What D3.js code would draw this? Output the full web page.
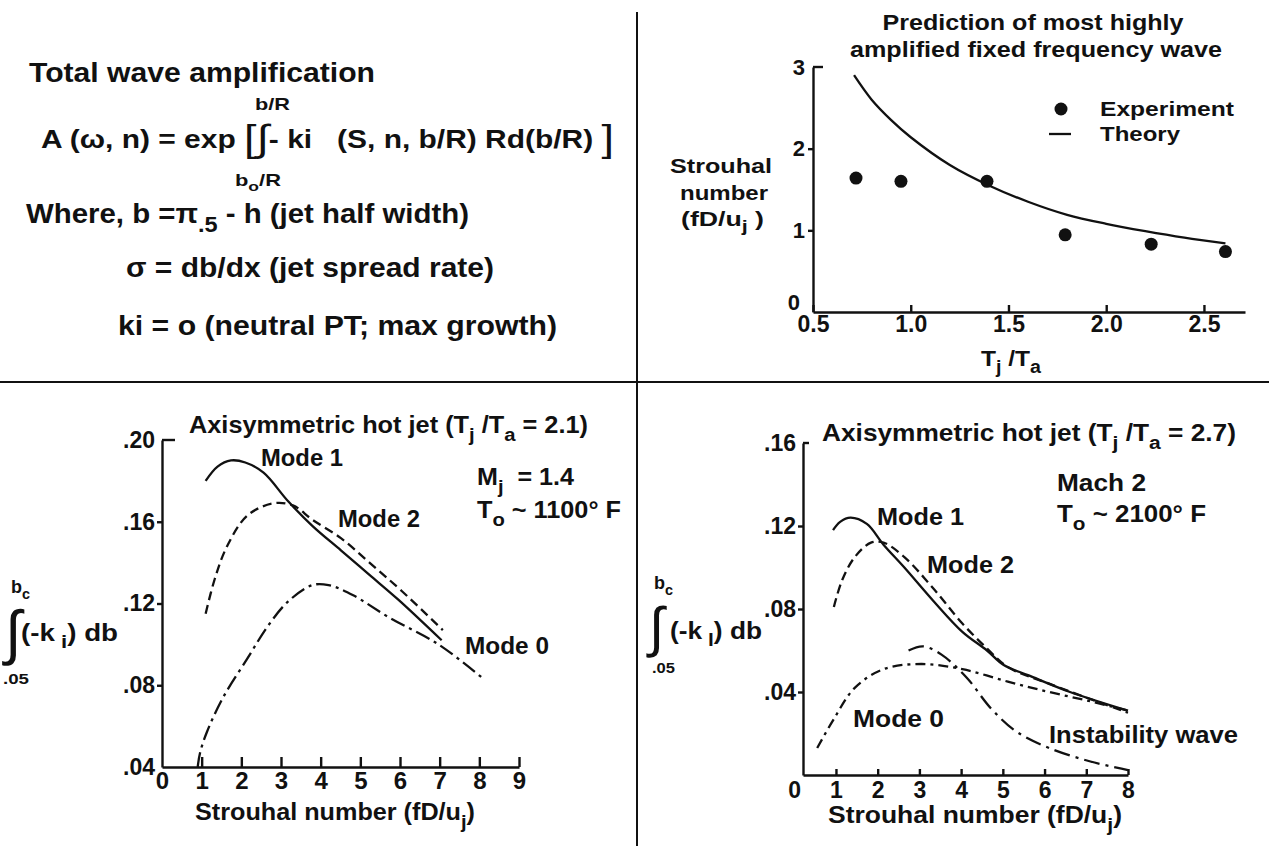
<!DOCTYPE html>
<html>
<head>
<meta charset="utf-8">
<script src="https://cdn.jsdelivr.net/npm/d3@7"></script>
<style>
  body { margin: 0; background: #fff; }
  svg text { font-family: "Liberation Sans Narrow", "Liberation Sans", Arial, sans-serif; font-weight: bold; fill: #111; white-space: pre; }
  svg text .big, svg text.big { font-weight: normal; }
  .axis path, .axis line { stroke: #111; stroke-width: 2.4; }
  .curve { fill: none; stroke: #111; stroke-width: 2.3; }
</style>
</head>
<body>
<svg id="chart" width="1269" height="846"></svg>
<script>
// top right: most highly amplified frequency vs temperature ratio
var ratioTicks = [0.5, 1.0, 1.5, 2.0, 2.5];
var strouhalTicks = [0, 1, 2, 3];
var experiment = [[0.72, 1.64], [0.95, 1.60], [1.39, 1.60], [1.79, 0.945], [2.23, 0.83], [2.61, 0.74]];
var theory = [[0.71, 2.90], [0.80, 2.60], [0.90, 2.35], [1.00, 2.14], [1.20, 1.80], [1.40, 1.55],
              [1.60, 1.35], [1.80, 1.19], [2.00, 1.08], [2.20, 0.99], [2.40, 0.91], [2.61, 0.84]];

// bottom left: Tj/Ta = 2.1
var hot21XTicks = [0, 1, 2, 3, 4, 5, 6, 7, 8, 9];
var hot21YTicks = [0.04, 0.08, 0.12, 0.16, 0.20];
var hot21Mode1 = [[1.10, 0.180], [1.40, 0.187], [1.74, 0.190], [2.10, 0.189], [2.56, 0.184], [3.18, 0.170],
                  [3.79, 0.158], [4.51, 0.146], [5.23, 0.134], [5.95, 0.122], [7.05, 0.102]];
var hot21Mode2 = [[1.10, 0.115], [1.33, 0.132], [1.64, 0.148], [2.15, 0.163], [2.80, 0.169], [3.30, 0.168],
                  [3.79, 0.161], [4.51, 0.152], [5.23, 0.140], [6.05, 0.126], [7.08, 0.107]];
var hot21Mode0 = [[0.90, 0.040], [0.96, 0.047], [1.13, 0.057], [1.54, 0.074], [2.15, 0.093], [2.67, 0.109],
                  [3.18, 0.121], [3.79, 0.129], [4.20, 0.129], [4.82, 0.124], [5.74, 0.113], [6.97, 0.100], [8.05, 0.084]];

// bottom right: Tj/Ta = 2.7
var hot27XTicks = [0, 1, 2, 3, 4, 5, 6, 7, 8];
var hot27YTicks = [0.04, 0.08, 0.12, 0.16];
var hot27Mode1 = [[0.93, 0.118], [1.10, 0.122], [1.35, 0.124], [1.74, 0.121], [2.14, 0.111], [2.64, 0.100],
                  [3.33, 0.084], [4.03, 0.069], [4.62, 0.060], [5.02, 0.053], [5.62, 0.048], [6.61, 0.040], [8.00, 0.031]];
var hot27Mode2 = [[0.95, 0.081], [1.15, 0.094], [1.45, 0.105], [1.84, 0.112], [2.14, 0.112], [2.64, 0.105],
                  [3.33, 0.090], [4.03, 0.073], [4.62, 0.061], [5.12, 0.052], [6.11, 0.044], [8.00, 0.030]];
var hot27Mode0 = [[0.55, 0.013], [0.95, 0.027], [1.45, 0.042], [2.14, 0.051], [3.04, 0.0535], [4.03, 0.051],
                  [5.12, 0.045], [6.11, 0.040], [7.10, 0.0355], [8.00, 0.031]];
var hot27Instab = [[2.74, 0.060], [3.09, 0.062], [3.53, 0.058], [4.13, 0.047], [4.72, 0.032], [5.32, 0.021],
                   [6.11, 0.013], [7.10, 0.0065], [8.00, 0.0024]];

var svg = d3.select("#chart");
svg.append("rect").attr("width", 1269).attr("height", 846).attr("fill", "#fff");

// text with _{sub}, ^{sup} and #{big} parts
function rich(x, y, str, size, opts) {
  opts = opts || {};
  var t = svg.append("text")
      .attr("x", x).attr("y", y)
      .attr("font-size", size)
      .attr("text-anchor", opts.anchor || "start");
  var re = /([_^#])\{([^}]*)\}/g, last = 0, m, shift = 0;
  function add(s, off, fs, cls) {
    if (!s) return;
    var sp = t.append("tspan").text(s);
    if (off !== shift) sp.attr("dy", off - shift);
    shift = off;
    if (fs) sp.attr("font-size", fs);
    if (cls) sp.attr("class", cls);
  }
  while ((m = re.exec(str)) !== null) {
    add(str.slice(last, m.index), 0);
    if (m[1] === "_") add(m[2], size * 0.32, size * 0.8);
    else if (m[1] === "^") add(m[2], -size * 0.4, size * 0.8);
    else add(m[2], size * 0.1, size * 1.5, "big");
    last = re.lastIndex;
  }
  add(str.slice(last), 0);
  if (opts.w) t.attr("textLength", opts.w).attr("lengthAdjust", "spacingAndGlyphs");
  if (opts.cls) t.attr("class", opts.cls);
  return t;
}

function yFmt(d) { return d3.format(".2f")(d).replace(/^0/, ""); }

var line = function(x, y) {
  return d3.line()
    .x(function(d) { return x(d[0]); })
    .y(function(d) { return y(d[1]); })
    .curve(d3.curveCatmullRom.alpha(0.5));
};

// panel dividers
svg.append("line").attr("x1", 637).attr("x2", 637).attr("y1", 12).attr("y2", 846)
   .attr("stroke", "#111").attr("stroke-width", 2);
svg.append("line").attr("x1", 0).attr("x2", 1269).attr("y1", 382).attr("y2", 382)
   .attr("stroke", "#111").attr("stroke-width", 2);

// ---------- top left: equations
rich(29, 82, "Total wave amplification", 28, {w: 346});
rich(255, 110, "b/R", 17, {w: 35});
rich(41, 148, "A (ω, n) = exp #{[}#{∫}- ki   (S, n, b/R) Rd(b/R) #{]}", 25, {w: 573});
rich(235, 186, "b_{o}/R", 17, {w: 46});
rich(26, 223, "Where, b =π_{.5} - h (jet half width)", 27, {w: 443});
rich(126, 277, "σ = db/dx (jet spread rate)", 27, {w: 368});
rich(118, 335, "ki = o (neutral PT; max growth)", 27, {w: 439});

// ---------- top right
var trX = d3.scaleLinear().domain([0.5, 2.71]).range([813, 1245]);
var trY = d3.scaleLinear().domain([0, 3]).range([312, 67]);

svg.append("g").attr("class", "axis")
   .attr("transform", "translate(0," + trY(0) + ")")
   .call(d3.axisBottom(trX).tickValues(ratioTicks).tickFormat(d3.format(".1f"))
         .tickSize(-7).tickSizeOuter(0).tickPadding(4))
   .attr("font-size", 23);

var trYAxis = svg.append("g").attr("class", "axis")
   .attr("transform", "translate(" + trX(0.5) + ",0)")
   .call(d3.axisLeft(trY).tickValues(strouhalTicks).tickFormat(d3.format("d"))
         .tickSize(5).tickSizeOuter(0).tickPadding(3))
   .attr("font-size", 22);
trYAxis.selectAll(".tick").filter(function(d) { return d === 0 || d === 3; }).select("line").remove();
// the 0 label sits just above the corner
trYAxis.selectAll(".tick").filter(function(d) { return d === 0; }).select("text").attr("y", -10).attr("x", -13);
svg.append("line").attr("x1", trX(0.5)).attr("x2", trX(0.5) + 10)
   .attr("y1", trY(3)).attr("y2", trY(3)).attr("stroke", "#111").attr("stroke-width", 2.4);

svg.append("path").attr("class", "curve").attr("d", line(trX, trY)(theory));
svg.selectAll(".expt").data(experiment).enter().append("circle")
   .attr("class", "expt")
   .attr("cx", function(d) { return trX(d[0]); })
   .attr("cy", function(d) { return trY(d[1]); })
   .attr("r", 6.5).attr("fill", "#111");

rich(1033, 30, "Prediction of most highly", 22, {anchor: "middle", w: 301});
rich(1036, 57, "amplified fixed frequency wave", 22, {anchor: "middle", w: 372});
svg.append("circle").attr("cx", 1061).attr("cy", 109).attr("r", 6.5).attr("fill", "#111");
rich(1100, 116, "Experiment", 21, {w: 134});
svg.append("line").attr("x1", 1049).attr("x2", 1071).attr("y1", 134).attr("y2", 134)
   .attr("stroke", "#111").attr("stroke-width", 2.3);
rich(1100, 141, "Theory", 21, {w: 80});
rich(721, 173, "Strouhal", 20, {anchor: "middle", w: 102});
rich(724, 200, "number", 20, {anchor: "middle", w: 88});
rich(681, 226, "(fD/u_{j} )", 20, {w: 83});
rich(981, 366, "T_{j} /T_{a}", 22, {w: 60});

// ---------- bottom left: Tj/Ta = 2.1
var blX = d3.scaleLinear().domain([0, 9]).range([162, 519]);
var blY = d3.scaleLinear().domain([0.04, 0.20]).range([767, 440]);

var blXAxis = svg.append("g").attr("class", "axis")
   .attr("transform", "translate(0," + blY(0.04) + ")")
   .call(d3.axisBottom(blX).tickValues(hot21XTicks).tickSize(-10).tickSizeOuter(0).tickPadding(5))
   .attr("font-size", 24);
blXAxis.selectAll(".tick").filter(function(d) { return d === 0; }).select("line").remove();

var blYAxis = svg.append("g").attr("class", "axis")
   .attr("transform", "translate(" + blX(0) + ",0)")
   .call(d3.axisLeft(blY).tickValues(hot21YTicks).tickFormat(yFmt).tickSize(5).tickSizeOuter(0).tickPadding(2))
   .attr("font-size", 23);
blYAxis.selectAll(".tick").filter(function(d) { return d === 0.04 || d === 0.20; }).select("line").remove();
svg.append("line").attr("x1", blX(0)).attr("x2", blX(0) + 13)
   .attr("y1", blY(0.20)).attr("y2", blY(0.20)).attr("stroke", "#111").attr("stroke-width", 2.4);

svg.append("path").attr("class", "curve").attr("d", line(blX, blY)(hot21Mode1));
svg.append("path").attr("class", "curve").attr("stroke-dasharray", "9,5").attr("d", line(blX, blY)(hot21Mode2));
svg.append("path").attr("class", "curve").attr("stroke-dasharray", "15,5,3,5").attr("d", line(blX, blY)(hot21Mode0));

rich(189, 433, "Axisymmetric hot jet (T_{j} /T_{a} = 2.1)", 24, {w: 399});
rich(261, 466, "Mode 1", 24, {w: 82});
rich(338, 527, "Mode 2", 24, {w: 82});
rich(465, 654, "Mode 0", 24, {w: 84});
rich(477, 485, "M_{j}  = 1.4", 24, {w: 97});
rich(477, 518, "T_{o} ~ 1100° F", 24, {w: 144});
rich(195, 820, "Strouhal number (fD/u_{j})", 24, {w: 280});
rich(11, 593, "b_{c}", 18);
rich(5, 653, "∫", 60, {cls: "big"});
rich(21, 641, "(-k_{ i}) db", 23, {w: 97});
rich(3, 684, ".05", 15, {w: 26});

// ---------- bottom right: Tj/Ta = 2.7
var brX = d3.scaleLinear().domain([0.21, 8]).range([803, 1128]);
var brY = d3.scaleLinear().domain([0, 0.16]).range([775, 443]);

var brXAxis = svg.append("g").attr("class", "axis")
   .attr("transform", "translate(0," + brY(0) + ")")
   .call(d3.axisBottom(brX).tickValues(hot27XTicks).tickSize(-6).tickSizeOuter(0).tickPadding(7))
   .attr("font-size", 23);
brXAxis.selectAll(".tick").filter(function(d) { return d === 0; }).select("line").remove();

var brYAxis = svg.append("g").attr("class", "axis")
   .attr("transform", "translate(" + brX(0.21) + ",0)")
   .call(d3.axisLeft(brY).tickValues(hot27YTicks).tickFormat(yFmt).tickSize(5).tickSizeOuter(0).tickPadding(2))
   .attr("font-size", 23);
brYAxis.selectAll(".tick").filter(function(d) { return d === 0.16; }).select("line").remove();
svg.append("line").attr("x1", brX(0.21)).attr("x2", brX(0.21) + 6)
   .attr("y1", brY(0.16)).attr("y2", brY(0.16)).attr("stroke", "#111").attr("stroke-width", 2.4);

svg.append("path").attr("class", "curve").attr("d", line(brX, brY)(hot27Mode1));
svg.append("path").attr("class", "curve").attr("stroke-dasharray", "9,5").attr("d", line(brX, brY)(hot27Mode2));
svg.append("path").attr("class", "curve").attr("stroke-dasharray", "10,5,3,5").attr("d", line(brX, brY)(hot27Mode0));
svg.append("path").attr("class", "curve").attr("stroke-dasharray", "16,6,3,6").attr("d", line(brX, brY)(hot27Instab));

rich(822, 441, "Axisymmetric hot jet (T_{j} /T_{a} = 2.7)", 24, {w: 414});
rich(1057, 491, "Mach 2", 24, {w: 89});
rich(1057, 522, "T_{o} ~ 2100° F", 24, {w: 149});
rich(877, 525, "Mode 1", 24, {w: 87});
rich(927, 573, "Mode 2", 24, {w: 87});
rich(853, 727, "Mode 0", 24, {w: 91});
rich(1049, 743, "Instability wave", 24, {w: 189});
rich(828, 823, "Strouhal number (fD/u_{j})", 24, {w: 294});
rich(654, 589, "b_{c}", 18);
rich(649, 646, "∫", 55, {cls: "big"});
rich(670, 639, "(-k_{ l}) db", 23, {w: 92});
rich(652, 673, ".05", 15, {w: 23});
</script>
</body>
</html>
